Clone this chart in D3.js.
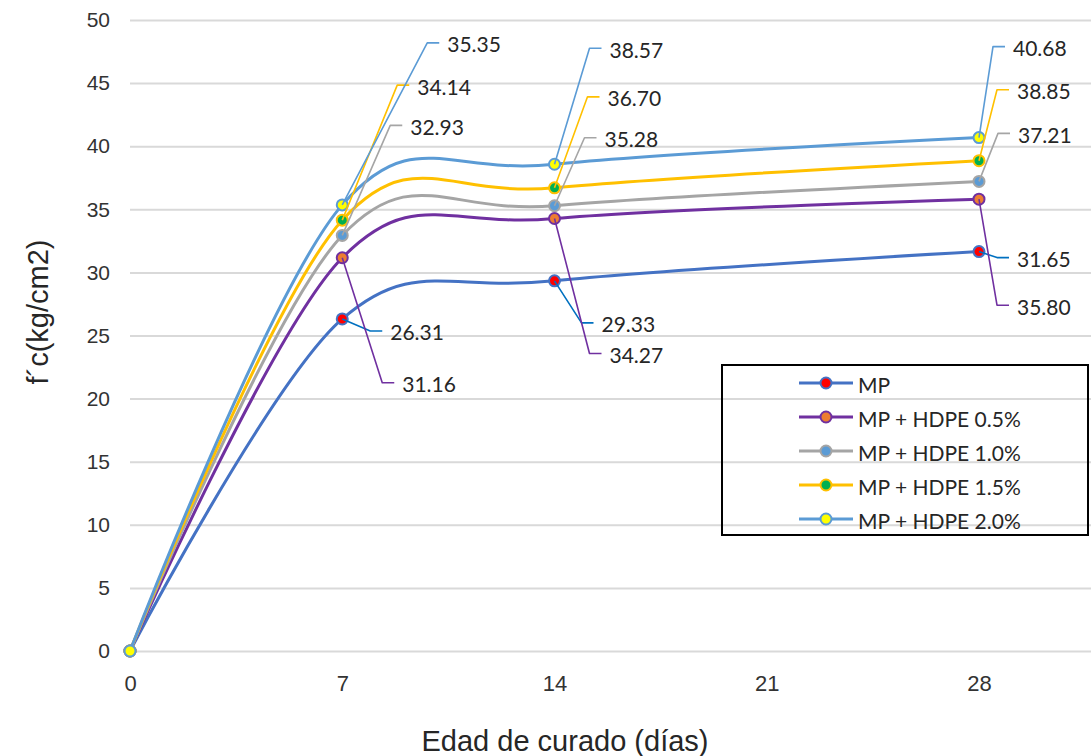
<!DOCTYPE html>
<html>
<head>
<meta charset="utf-8">
<script src="https://cdn.jsdelivr.net/npm/d3@7"></script>
<style>
  html, body { margin: 0; padding: 0; background: #ffffff; }
  svg { display: block; }
</style>
</head>
<body>
<script>
// ---------------- DATA ----------------
const days = [0, 7, 14, 28];
const xTickValues = [0, 7, 14, 21, 28];
const yTickValues = [0, 5, 10, 15, 20, 25, 30, 35, 40, 45, 50];
const seriesNames = ["MP", "MP + HDPE 0.5%", "MP + HDPE 1.0%", "MP + HDPE 1.5%", "MP + HDPE 2.0%"];
const mp     = [0, 26.31, 29.33, 31.65];
const hdpe05 = [0, 31.16, 34.27, 35.80];
const hdpe10 = [0, 32.93, 35.28, 37.21];
const hdpe15 = [0, 34.14, 36.70, 38.85];
const hdpe20 = [0, 35.35, 38.57, 40.68];
const xTitle = "Edad de curado (días)";
const yTitle = "f´c(kg/cm2)";

// ---------------- STYLE ----------------
const lineColors   = ["#4472C4", "#7030A0", "#A5A5A5", "#FFC000", "#5B9BD5"];
const markerFills  = ["#FF0000", "#ED7D31", "#5B9BD5", "#00B050", "#FFFF00"];
const leaderColors = ["#0070C0", "#7030A0", "#A5A5A5", "#FFC000", "#5B9BD5"];
// label leader elbow offsets (px) from each data point; first point has no label
const labelOffsets = [
  [null, [28, 12],  [27, 42],  [18, 6]],
  [null, [40, 125], [35, 135], [18, 106]],
  [null, [48, -110],[30, -68], [19, -48]],
  [null, [55, -135],[33, -91], [18, -71]],
  [null, [85, -162],[35, -116],[14, -91]]
];

const W = 1091, H = 756;
const tickFont = "'Liberation Sans', Arial, sans-serif";
const labelFont = "Lato, 'Open Sans', sans-serif";

const svg = d3.select("body").append("svg").attr("width", W).attr("height", H);

const x = d3.scaleLinear().domain([0, 28]).range([130, 979]);
const y = d3.scaleLinear().domain([0, 50]).range([651, 20]);

// gridlines
const grid = svg.append("g").attr("transform", `translate(${x(0)},0)`)
  .call(d3.axisLeft(y).tickValues(yTickValues).tickSize(-(W - x(0))).tickFormat(""));
grid.select(".domain").remove();
grid.selectAll(".tick line").attr("stroke", "#D9D9D9").attr("stroke-width", 2);

// y tick labels
const yAx = svg.append("g").attr("transform", `translate(${x(0)},0)`)
  .call(d3.axisLeft(y).tickValues(yTickValues).tickSize(0).tickPadding(20));
yAx.select(".domain").remove();
yAx.selectAll("text").attr("font-family", tickFont).attr("font-size", 21).attr("fill", "#333");

// x tick labels
const xAx = svg.append("g").attr("transform", `translate(0,${y(0)})`)
  .call(d3.axisBottom(x).tickValues(xTickValues).tickSize(0).tickPadding(24));
xAx.select(".domain").remove();
xAx.selectAll("text").attr("font-family", tickFont).attr("font-size", 22).attr("fill", "#333");

// axis titles
svg.append("text").attr("x", 565).attr("y", 741)
  .attr("text-anchor", "middle").attr("dominant-baseline", "central")
  .attr("font-family", tickFont).attr("font-size", 29).attr("fill", "#262626")
  .text(xTitle);
svg.append("text").attr("transform", "translate(38,312) rotate(-90)")
  .attr("text-anchor", "middle").attr("dominant-baseline", "central")
  .attr("font-family", tickFont).attr("font-size", 29).attr("fill", "#262626")
  .text(yTitle);

const allSeries = [mp, hdpe05, hdpe10, hdpe15, hdpe20];
const line = d3.line()
  .x(d => x(d[0])).y(d => y(d[1]))
  .curve(d3.curveCardinal.tension(0));

allSeries.forEach((vals, s) => {
  const pts = days.map((d, i) => [d, vals[i]]);
  const g = svg.append("g");
  g.append("path").datum(pts).attr("d", line)
    .attr("fill", "none").attr("stroke", lineColors[s]).attr("stroke-width", 3)
    .attr("stroke-linejoin", "round").attr("stroke-linecap", "round");
  g.selectAll("circle").data(pts).join("circle")
    .attr("cx", d => x(d[0])).attr("cy", d => y(d[1])).attr("r", 5.5)
    .attr("fill", markerFills[s]).attr("stroke", lineColors[s]).attr("stroke-width", 2);
});

// data labels with leader lines
const fmt = d3.format(".2f");
allSeries.forEach((vals, s) => {
  days.forEach((d, i) => {
    const off = labelOffsets[s][i];
    if (!off) return;
    const px = x(d), py = y(vals[i]);
    const ex = px + off[0], ey = py + off[1];
    const hx = ex + 12;
    svg.append("polyline")
      .attr("points", `${px},${py} ${ex},${ey} ${hx},${ey}`)
      .attr("fill", "none").attr("stroke", leaderColors[s]).attr("stroke-width", 1.6)
      .attr("stroke-linejoin", "round");
    svg.append("text").attr("x", hx + 8).attr("y", ey + 1)
      .attr("dominant-baseline", "central")
      .attr("font-family", labelFont).attr("font-size", 21).attr("fill", "#262626")
      .text(fmt(vals[i]));
  });
});

// legend
const lg = svg.append("g");
lg.append("rect").attr("x", 722).attr("y", 365).attr("width", 366).attr("height", 170)
  .attr("fill", "none").attr("stroke", "#000").attr("stroke-width", 2);
const legendRows = [383, 417, 451, 485, 519];
seriesNames.forEach((name, s) => {
  const ry = legendRows[s];
  lg.append("line").attr("x1", 799).attr("x2", 853).attr("y1", ry).attr("y2", ry)
    .attr("stroke", lineColors[s]).attr("stroke-width", 3);
  lg.append("circle").attr("cx", 826).attr("cy", ry).attr("r", 5.5)
    .attr("fill", markerFills[s]).attr("stroke", lineColors[s]).attr("stroke-width", 2);
  lg.append("text").attr("x", 858).attr("y", ry + 1).attr("dominant-baseline", "central")
    .attr("font-family", labelFont).attr("font-size", 21).attr("fill", "#262626")
    .text(name);
});
</script>
</body>
</html>
